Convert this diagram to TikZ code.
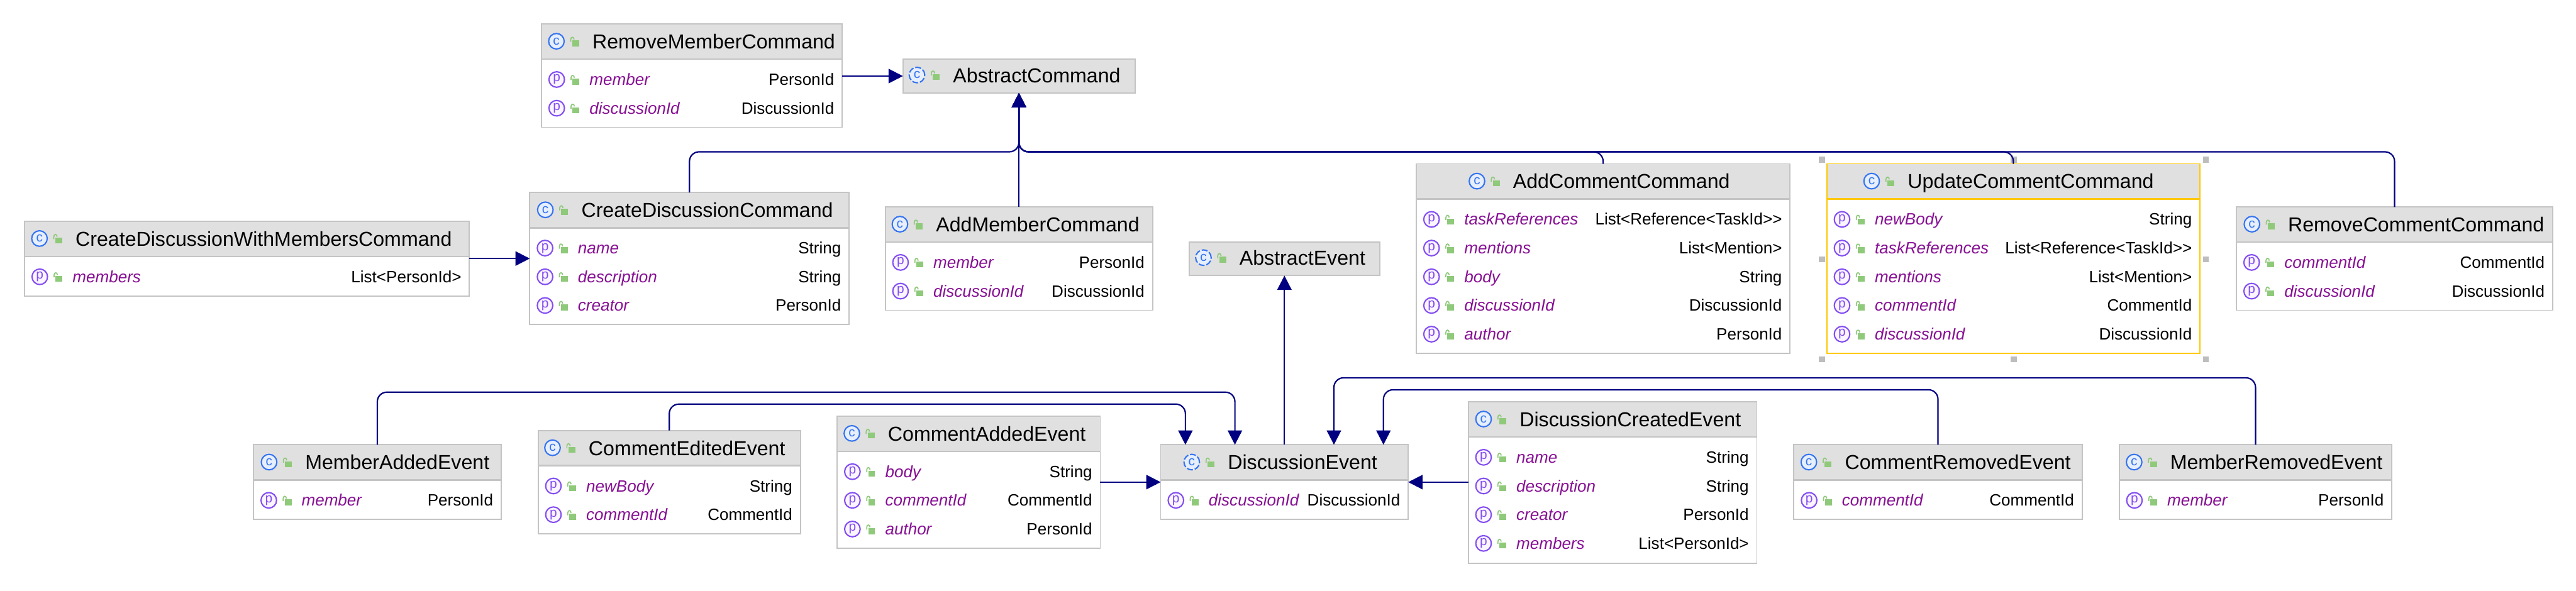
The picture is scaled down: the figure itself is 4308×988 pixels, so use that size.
\documentclass[tikz,border=0pt]{standalone}
\usepackage{fontspec}
\setmainfont{Liberation Sans}
\usetikzlibrary{arrows.meta,calc}
\definecolor{umlnavy}{HTML}{000080}
\definecolor{umlhead}{HTML}{E0E0E0}
\definecolor{umlgray}{HTML}{C4C4C4}
\definecolor{umlsel}{HTML}{FFC800}
\definecolor{umlfield}{HTML}{871094}
\definecolor{umlblue}{HTML}{3574F0}
\definecolor{umlblueb}{HTML}{E7EFFD}
\definecolor{umlpurple}{HTML}{834DF0}
\definecolor{umlpurpleb}{HTML}{FAF5FF}
\definecolor{umlgreen}{HTML}{8FC97A}
\definecolor{umlhandle}{HTML}{BDBDBD}
\colorlet{boxline}{umlgray}
\tikzset{
  umlbox/.style={draw=boxline,fill=white,line width=1pt,inner sep=0pt,outer sep=0pt,anchor=north west},
  umltitle/.style={inner sep=0pt,anchor=base west,font=\fontsize{16.9pt}{20pt}\selectfont,text=black},
  umlfieldtext/.style={inner sep=0pt,anchor=base west,font=\fontsize{13.7pt}{16pt}\selectfont\itshape,text=umlfield},
  umltype/.style={inner sep=0pt,anchor=base east,font=\fontsize{13.7pt}{16pt}\selectfont,text=black},
  cicon/.style={circle,draw=umlblue,fill=umlblueb,line width=1.1pt,minimum size=13pt,inner sep=0pt,text=umlblue,font=\fontsize{11pt}{11pt}\selectfont},
  picon/.style={circle,draw=umlpurple,fill=umlpurpleb,line width=1.1pt,minimum size=13pt,inner sep=0pt,text=umlpurple,font=\fontsize{11pt}{11pt}\selectfont},
  conn/.style={draw=umlnavy,line width=1.15pt,rounded corners=8pt,-{Triangle[length=12pt,width=12pt]}},
  handle/.style={fill=umlhandle},
}
\newcommand{\lockicon}[2]{%
  \fill[umlgreen] (#1+52,#2-1.5) rectangle (#1+63.5,#2+8.5);
  \draw[umlgreen,line width=0.9pt] (#1+49.5,#2+1) -- (#1+49.5,#2-3)
    .. controls (#1+49.5,#2-8) and (#1+55,#2-8) .. (#1+55,#2-3);
}
% name, x1, y1, x2, y2, header bottom, icon offset, title, rows
\newcommand{\umlclass}[9]{%
  \pgfmathsetlengthmacro{\boxw}{(#4-#2)*0.5pt}%
  \pgfmathsetlengthmacro{\boxh}{(#5-#3)*0.5pt}%
  \node[umlbox,minimum width=\boxw,minimum height=\boxh] (#1) at (#2,#3) {};
  \fill[umlhead] (#2+1,#3+1) rectangle (#4-1,#6-1);
  \draw[boxline,line width=1pt] (#2,#3) -- (#4,#3);
  \if\relax\detokenize{#9}\relax\else
    \draw[boxline,line width=1.4pt] (#2,#6) -- (#4,#6);
  \fi
  \node[cicon] (#1-c) at (#2+#7,#6-30) {c};
  \begingroup\pgfmathsetmacro{\lx}{#2+#7-25.5}\lockicon{\lx}{#6-30}\endgroup
  \node[umltitle] (#1-t) at (#2+#7+60,#6-17.5) {#8};
  \if\relax\detokenize{#9}\relax\else
    \foreach \i/\f/\t in {#9}{
      \pgfmathsetmacro{\ry}{#6+34+48*(\i-1)}
      \node[picon] (#1-p\i) at (#2+25.5,\ry) {p};
      \lockicon{#2}{\ry}
      \node[umlfieldtext] (#1-f\i) at (#2+80,\ry+9.5) {\f};
      \node[umltype] (#1-y\i) at (#4-13,\ry+9.5) {\t};
    }
  \fi
}
\begin{document}
\begin{tikzpicture}[x=0.5pt,y=-0.5pt]
\useasboundingbox (0,0) rectangle (4308,988);

\umlclass{RMC}{905.5}{40}{1408.5}{213}{99}{25}{RemoveMemberCommand}{1/member/PersonId,2/discussionId/DiscussionId}
\begin{scope}[cicon/.append style={dash pattern=on 5pt off 1.6pt}]
\umlclass{AC}{1510}{99}{1898}{155.5}{155.5}{23.5}{AbstractCommand}{}
\umlclass{AE}{1988.5}{405}{2307.5}{461}{461}{24}{AbstractEvent}{}
\umlclass{DE}{1941}{744}{2355}{869}{803}{52}{DiscussionEvent}{1/discussionId/DiscussionId}
\end{scope}
\umlclass{CDM}{41}{370}{785}{495}{429}{25}{CreateDiscussionWithMembersCommand}{1/members/List<PersonId>}
\umlclass{CD}{886}{322}{1420}{543}{381}{26}{CreateDiscussionCommand}{1/name/String,2/description/String,3/creator/PersonId}
\umlclass{AM}{1480.5}{346.5}{1927.5}{519}{405}{24.5}{AddMemberCommand}{1/member/PersonId,2/discussionId/DiscussionId}
\umlclass{ACC}{2368.5}{274}{2993.5}{591}{333}{101.5}{AddCommentCommand}{1/taskReferences/List<Reference<TaskId>{}>,2/mentions/List<Mention>,3/body/String,4/discussionId/DiscussionId,5/author/PersonId}
\begin{scope}
\colorlet{boxline}{umlsel}
\umlclass{UCC}{3055}{274}{3679}{591}{333}{75}{UpdateCommentCommand}{1/newBody/String,2/taskReferences/List<Reference<TaskId>{}>,3/mentions/List<Mention>,4/commentId/CommentId,5/discussionId/DiscussionId}
\end{scope}
\umlclass{RCC}{3740}{346.5}{4269}{519}{405}{26}{RemoveCommentCommand}{1/commentId/CommentId,2/discussionId/DiscussionId}
\umlclass{MAE}{424}{744}{838}{869}{803}{26}{MemberAddedEvent}{1/member/PersonId}
\umlclass{CEE}{900}{720}{1338.5}{893}{779}{24}{CommentEditedEvent}{1/newBody/String,2/commentId/CommentId}
\umlclass{CAE}{1400}{696}{1840}{917}{755}{24.6}{CommentAddedEvent}{1/body/String,2/commentId/CommentId,3/author/PersonId}
\umlclass{DCE}{2455.5}{672}{2938}{942}{731}{25.5}{DiscussionCreatedEvent}{1/name/String,2/description/String,3/creator/PersonId,4/members/List<PersonId>}
\umlclass{CRE}{3000}{744}{3482}{869}{803}{25}{CommentRemovedEvent}{1/commentId/CommentId}
\umlclass{MRE}{3544}{744}{4000}{869}{803}{25}{MemberRemovedEvent}{1/member/PersonId}

% selection handles
\foreach \hx/\hy in {3047/267,3367.5/267,3689/267,3047/434,3689/434,3047/601,3367.5/601,3689/601}
  \fill[handle] (\hx-5,\hy-5) rectangle (\hx+5,\hy+5);

% connector anchors
\coordinate (busC) at (0,254);
\coordinate (e1) at ($(DE.north west)!0.1!(DE.north east)$);
\coordinate (e2) at ($(DE.north west)!0.3!(DE.north east)$);
\coordinate (e4) at ($(DE.north west)!0.7!(DE.north east)$);
\coordinate (e5) at ($(DE.north west)!0.9!(DE.north east)$);
\coordinate (b1) at (0,676);
\coordinate (b2) at (0,656);
\coordinate (b4) at (0,632);
\coordinate (b5) at (0,652);

% commands
\draw[conn] (RMC.east |- AC.west) -- (AC.west);
\draw[conn] (CDM.east |- CD.west) -- (CD.west);
\draw[conn] (AM.north -| AC.south) -- (AC.south);
\draw[conn] (CD.north) -- (CD.north |- busC) -- (AC.south |- busC) -- (AC.south);
\draw[conn] (ACC.north) -- (ACC.north |- busC) -- (AC.south |- busC) -- (AC.south);
\draw[conn] (UCC.north) -- (UCC.north |- busC) -- (AC.south |- busC) -- (AC.south);
\draw[conn] (RCC.north) -- (RCC.north |- busC) -- (AC.south |- busC) -- (AC.south);

% events
\draw[conn] (DE.north -| AE.south) -- (AE.south);
\draw[conn] (CAE.east |- DE.west) -- (DE.west);
\draw[conn] (DCE.west |- DE.east) -- (DE.east);
\draw[conn] (CEE.north) -- (CEE.north |- b1) -- (e1 |- b1) -- (e1);
\draw[conn] (MAE.north) -- (MAE.north |- b2) -- (e2 |- b2) -- (e2);
\draw[conn] (MRE.north) -- (MRE.north |- b4) -- (e4 |- b4) -- (e4);
\draw[conn] (CRE.north) -- (CRE.north |- b5) -- (e5 |- b5) -- (e5);
\end{tikzpicture}
\end{document}
